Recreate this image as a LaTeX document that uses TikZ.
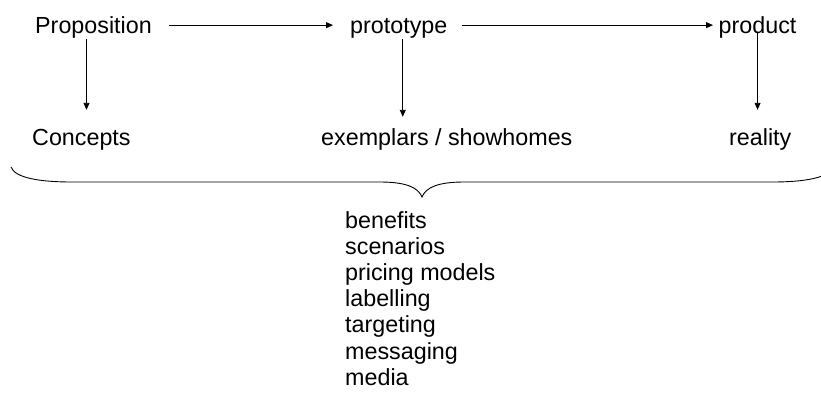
\documentclass[tikz,border=0pt]{standalone}
\usepackage{fontspec}
\setmainfont{Liberation Sans}
\usetikzlibrary{arrows.meta,calc}

\tikzset{
  label/.style={anchor=base west, inner sep=0pt, text height=16.5pt, text depth=4.8pt,
                font=\fontsize{23.3}{26.5}\selectfont},
  arr/.style={draw=black, line width=0.9pt, -{Triangle[length=7pt,width=6pt]}},
  brace/.style={draw=black, line width=0.9pt}
}

\begin{document}
\begin{tikzpicture}[x=1pt, y=-1pt]
  \useasboundingbox (0,0) rectangle (821,392);
  \clip (0,0) rectangle (821,392);

  % top row
  \node[label] (prop)    at (35,33)    {Proposition};
  \node[label] (proto)   at (350,33)   {prototype};
  \node[label] (product) at (718.5,33) {product};

  % second row
  \node[label] (concepts)  at (32,145)  {Concepts};
  \node[label] (exemplars) at (321,145) {exemplars / showhomes};
  \node[label] (reality)   at (729,145) {reality};

  % list under the brace
  \node[anchor=north west, inner sep=0pt, align=left,
        font=\fontsize{23.3}{26.2}\selectfont] (list) at (345,211)
    {benefits\\scenarios\\pricing models\\labelling\\targeting\\messaging\\media};

  % horizontal arrows
  \draw[arr] ($(prop.east)+(17,-2)$) -- ($(proto.west)+(-17,-2)$);
  \draw[arr] ($(proto.east)+(14,-2)$) -- ($(product.west)+(-5.5,-2)$);

  % vertical arrows
  \draw[arr, shorten >=18.5pt] ([xshift=-7pt,yshift=-1pt]prop.south)
        -- ([xshift=-7pt]prop.south |- concepts.north);
  \draw[arr, shorten >=11.5pt] ([xshift=4pt,yshift=-1pt]proto.south)
        -- ([xshift=4pt]proto.south |- exemplars.north);
  \draw[arr, shorten >=18.5pt] ([yshift=4.8pt]product.south)
        -- (product.south |- reality.north);

  % curly brace
  \draw[brace] (11,167) .. controls (15,178) and (40,182) .. (72,182)
        -- (380,182) .. controls (405,182) and (418,187) .. (422,197)
        .. controls (426,187) and (439,182) .. (464,182)
        -- (772,182) .. controls (804,182) and (829,178) .. (833,167);
\end{tikzpicture}
\end{document}
